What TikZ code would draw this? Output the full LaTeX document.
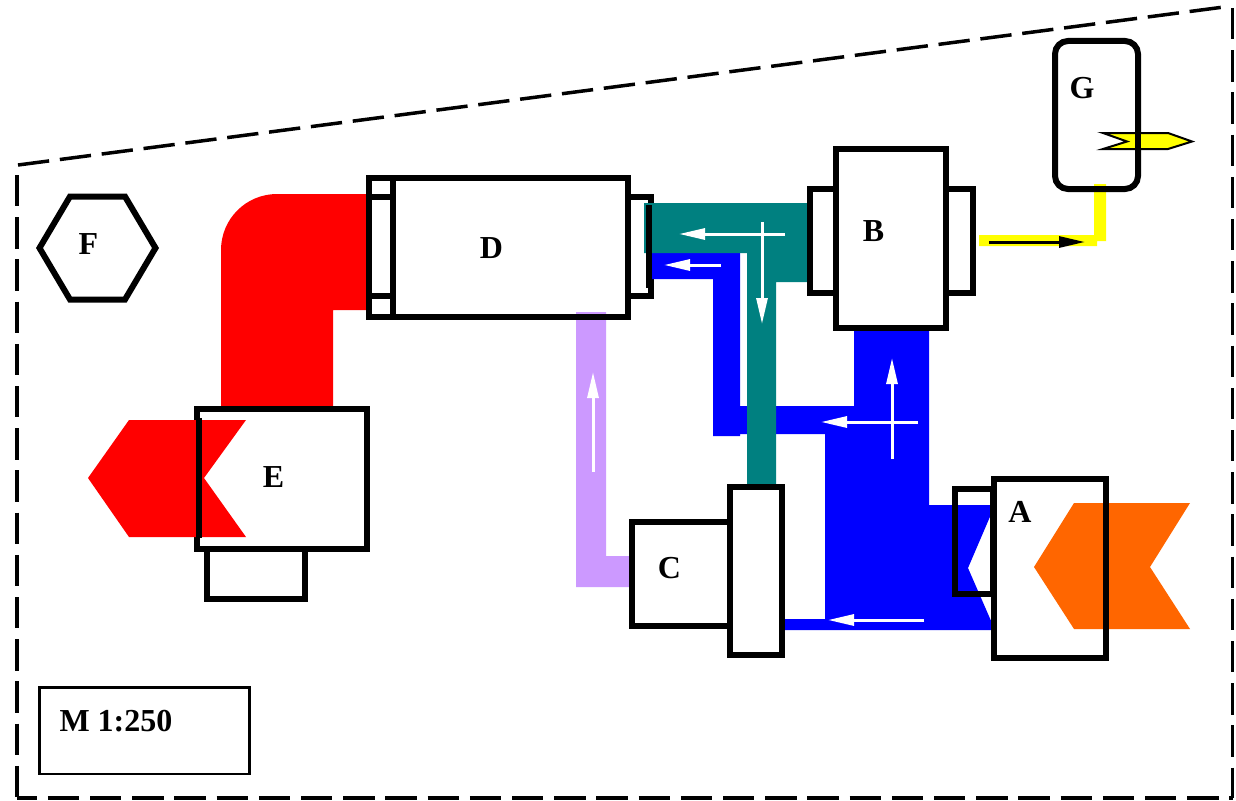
\documentclass[tikz,border=0pt]{standalone}
\usepackage{fontspec}
\setmainfont{Liberation Serif}
\usetikzlibrary{arrows.meta,calc}
\definecolor{cteal}{HTML}{008080}
\definecolor{cblue}{HTML}{0000FF}
\definecolor{cred}{HTML}{FF0000}
\definecolor{corange}{HTML}{FF6600}
\definecolor{cyellow}{HTML}{FFFF00}
\definecolor{clilac}{HTML}{CC99FF}
\tikzset{
  box/.style={draw=black,line width=6pt,inner sep=0pt,outer sep=0pt,anchor=north west,line join=miter},
  solidbox/.style={box,fill=white},
  edge/.style={draw=black,line width=6pt},
  lbl/.style={font=\fontsize{32}{32}\selectfont\bfseries,inner sep=0pt,outer sep=0pt,text=black,anchor=base},
  site/.style={draw=black,line width=3.5pt,dash pattern=on 31.4pt off 10.8pt},
  wa/.style={draw=white,line width=3pt,-{Triangle[length=26pt,width=11pt,fill=white]}},
  ka/.style={draw=black,line width=3pt,-{Triangle[length=26pt,width=11pt,fill=black]}},
}
\begin{document}
\begin{tikzpicture}[x=1pt,y=-1pt]
\useasboundingbox (0,0) rectangle (1236,800);
\fill[white] (0,0) rectangle (1236,800);
% outer dashed site boundary
\draw[site] (18,165) -- (1224,7);
\draw[site] (1232.5,8) -- (1232.5,798);
\draw[site] (17,175) -- (17,798);
\draw[site,dash phase=11.4pt] (17,798) -- (1232.5,798);
% scale box
\node[draw=black,line width=2.5pt,inner sep=0pt,outer sep=0pt,anchor=north west,minimum width=210pt,minimum height=86.5pt] (scalebox) at (39.5,687.5) {};
\node[lbl,anchor=base west] (scale) at (59.5,731) {M 1:250};
% pipes
\node[box,minimum width=23pt,minimum height=99pt] (Dright) at (628,197) {};
\fill[cred] (367,194) -- (277,194) .. controls (246,194) and (221,219) .. (221,250) -- (221,409) -- (333,409) -- (333,310) -- (367,310) -- cycle;
\fill[clilac] (576,312) -- (606,312) -- (606,556) -- (630,556) -- (630,587) -- (576,587) -- cycle;
\fill[cblue] (652,253) -- (740,253) -- (740,406) -- (854,406) -- (854,326) -- (929,326) -- (929,505) -- (995,505) -- (968,568) -- (995,630) -- (783,630) -- (783,619) -- (825,619) -- (825,434) -- (740,434) -- (740,436) -- (713,436) -- (713,279) -- (652,279) -- cycle;
\fill[cteal] (644,203) -- (808,203) -- (808,282) -- (776,282) -- (776,487) -- (747,487) -- (747,253) -- (644,253) -- cycle;
\fill[cyellow] (979,235) -- (1094,235) -- (1094,184) -- (1106,184) -- (1106,241) -- (1097,241) -- (1097,246) -- (979,246) -- cycle;
% G
\node[box,rounded corners=13pt,minimum width=83pt,minimum height=148pt] (G) at (1055,41) {};
\draw[black,line width=2pt,fill=cyellow,line join=miter,miter limit=10] (1103,133) -- (1168,133) -- (1192,141.5) -- (1168,149) -- (1103,149) -- (1127,141.5) -- cycle;
\draw[edge] (1138,128) -- (1138,153);
% D
\node[box,minimum width=24pt,minimum height=138.5pt] (Dflange) at (369,178) {};
\draw[edge] (369,197) -- (393,197) (369,296) -- (393,296);
\node[box,minimum width=235pt,minimum height=138.5pt] (D) at (393,178) {};
\draw[edge] (649,205) -- (649,288);
% B
\node[box,minimum width=26pt,minimum height=104pt] (Bl) at (810,189) {};
\node[box,minimum width=27pt,minimum height=104pt] (Br) at (946,189) {};
\node[box,minimum width=110pt,minimum height=179pt] (B) at (836,149) {};
% C
\node[box,minimum width=98pt,minimum height=104pt] (C) at (632,522) {};
\node[solidbox,minimum width=52pt,minimum height=168pt] (Cplate) at (730,487) {};
% A
\node[box,minimum width=38pt,minimum height=105pt] (Af) at (955,489) {};
\node[box,minimum width=111.5pt,minimum height=179pt] (A) at (994,479) {};
\fill[corange] (1190,503) -- (1074,503) -- (1034,567) -- (1074,629) -- (1190,629) -- (1150,567) -- cycle;
\draw[edge] (A.north east) -- (A.south east);
% E
\node[solidbox,minimum width=170.5pt,minimum height=140pt] (E) at (196.5,409) {};
\node[box,minimum width=98pt,minimum height=50pt] (Eb) at (207,549) {};
\fill[cred] (246,420) -- (129,420) -- (88,478) -- (129,537) -- (246,537) -- (204,478) -- cycle;
\draw[edge] (199,418) -- (199,538);
% F
\draw[black,line width=6pt,line join=miter] (70,196.5) -- (125,196.5) -- (155.5,248) -- (125,299.5) -- (70,299.5) -- (39.5,248) -- cycle;
% labels
\node[lbl] (lA) at (1020,522) {A};
\node[lbl] (lB) at (873.5,241) {B};
\node[lbl] (lC) at (669.5,578) {C};
\node[lbl] (lD) at (491.5,258) {D};
\node[lbl] (lE) at (273.5,487) {E};
\node[lbl] (lF) at (88.5,254) {F};
\node[lbl] (lG) at (1082,98) {G};
% flow arrows
\draw[wa] (785,234) -- (679,234);
\draw[wa] (762,222) -- (762,324);
\draw[wa] (721,265) -- (664,265);
\draw[wa] (892,459) -- (892,358);
\draw[wa] (918,422) -- (821,422);
\draw[wa] (924,620) -- (828,620);
\draw[wa] (593,472) -- (593,372);
\draw[ka] (989,242) -- (1085,242);
\end{tikzpicture}
\end{document}
